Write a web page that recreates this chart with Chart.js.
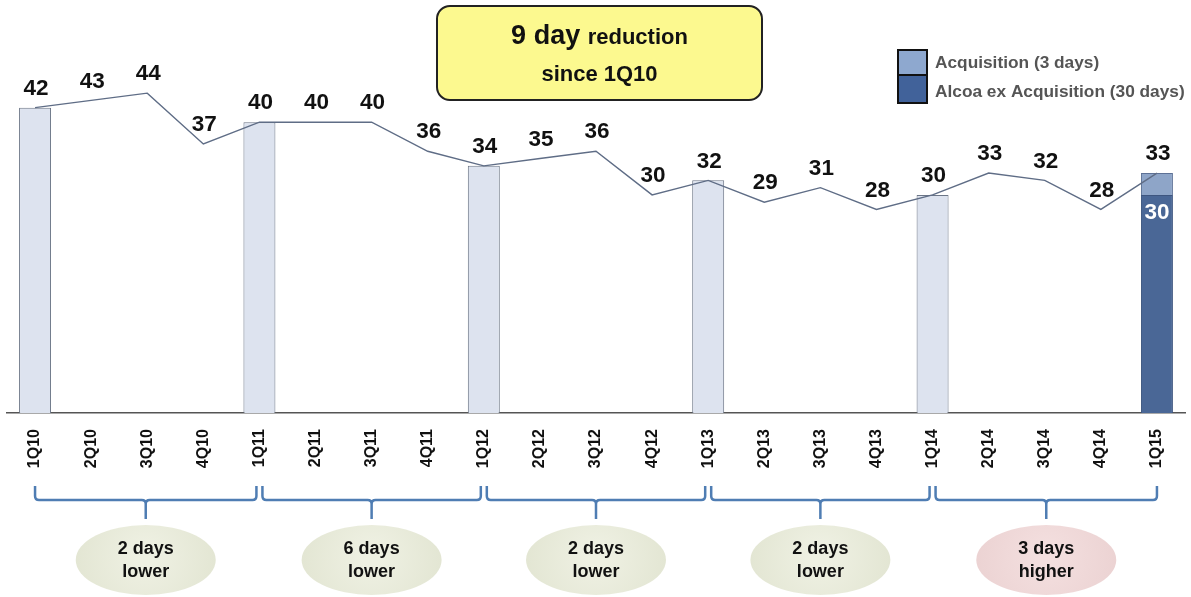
<!DOCTYPE html>
<html>
<head>
<meta charset="utf-8">
<script src="https://cdn.jsdelivr.net/npm/chart.js@4/dist/chart.umd.min.js"></script>
<style>
  html, body { margin: 0; padding: 0; background: #fff; }
  #wrap { width: 1191px; height: 597px; position: relative; }
</style>
</head>
<body>
<div id="wrap"><canvas id="dsoChart"></canvas></div>
<script>
const quarters = ['1Q10','2Q10','3Q10','4Q10','1Q11','2Q11','3Q11','4Q11','1Q12','2Q12','3Q12','4Q12',
                  '1Q13','2Q13','3Q13','4Q13','1Q14','2Q14','3Q14','4Q14','1Q15'];
const dsoDays = [42,43,44,37,40,40,40,36,34,35,36,30,32,29,31,28,30,33,32,28,33];
const yearStartBars = [42,null,null,null,40,null,null,null,34,null,null,null,32,null,null,null,30,null,null,null,null];
const alcoaExAcq = [null,null,null,null,null,null,null,null,null,null,null,null,null,null,null,null,null,null,null,null,30];
const acquisition = [null,null,null,null,null,null,null,null,null,null,null,null,null,null,null,null,null,null,null,null,3];
const legendLabels = ['Acquisition (3 days)', 'Alcoa ex Acquisition (30 days)'];
// year-over-year comparison brackets: [from index, to index, line1, line2, good?]
const yearGroups = [
  [0, 4, '2 days', 'lower', true],
  [4, 8, '6 days', 'lower', true],
  [8, 12, '2 days', 'lower', true],
  [12, 16, '2 days', 'lower', true],
  [16, 20, '3 days', 'higher', false]
];
const headline = ['9 day', 'reduction', 'since 1Q10'];

const FONT = '"Liberation Sans", Arial, sans-serif';

function drawBrace(ctx, x1, x2, yTop, yMid, yTip) {
  const xm = (x1 + x2) / 2;
  ctx.beginPath();
  ctx.moveTo(x1, yTop);
  ctx.lineTo(x1, yMid - 4);
  ctx.quadraticCurveTo(x1, yMid, x1 + 4, yMid);
  ctx.lineTo(xm - 4, yMid);
  ctx.quadraticCurveTo(xm, yMid, xm, yMid + 4);
  ctx.lineTo(xm, yTip);
  ctx.moveTo(xm, yMid + 4);
  ctx.quadraticCurveTo(xm, yMid, xm + 4, yMid);
  ctx.lineTo(x2 - 4, yMid);
  ctx.quadraticCurveTo(x2, yMid, x2, yMid - 4);
  ctx.lineTo(x2, yTop);
  ctx.stroke();
}

const overlayPlugin = {
  id: 'overlay',
  afterDatasetsDraw(chart) {
    const ctx = chart.ctx;
    const lineMeta = chart.getDatasetMeta(0);

    // value labels above the line
    ctx.save();
    ctx.font = 'bold 22.5px ' + FONT;
    ctx.fillStyle = '#111';
    ctx.textAlign = 'center';
    ctx.textBaseline = 'middle';
    lineMeta.data.forEach((pt, i) => {
      ctx.fillText(String(dsoDays[i]), pt.x + 1, pt.y - 19);
    });
    // white label inside dark segment
    const darkMeta = chart.getDatasetMeta(2);
    const last = quarters.length - 1;
    const bar = darkMeta.data[last];
    ctx.fillStyle = '#fff';
    ctx.fillText(String(alcoaExAcq[last]), bar.x, bar.y + 18);
    ctx.restore();
  },
  afterDraw(chart) {
    const ctx = chart.ctx;
    const x = chart.scales.x;
    ctx.save();

    // headline box
    const bx = 437, by = 6, bw = 325, bh = 94;
    ctx.beginPath();
    ctx.roundRect(bx, by, bw, bh, 13);
    ctx.fillStyle = '#fcf98f';
    ctx.fill();
    ctx.lineWidth = 2;
    ctx.strokeStyle = '#222';
    ctx.stroke();
    ctx.fillStyle = '#111';
    ctx.textBaseline = 'alphabetic';
    ctx.font = 'bold 27px ' + FONT;
    const w1 = ctx.measureText(headline[0] + ' ').width;
    ctx.font = 'bold 22px ' + FONT;
    const w2 = ctx.measureText(headline[1]).width;
    let sx = bx + bw / 2 - (w1 + w2) / 2;
    ctx.textAlign = 'left';
    ctx.font = 'bold 27px ' + FONT;
    ctx.fillText(headline[0] + ' ', sx, 44);
    ctx.font = 'bold 22px ' + FONT;
    ctx.fillText(headline[1], sx + w1, 44);
    ctx.textAlign = 'center';
    ctx.fillText(headline[2], bx + bw / 2, 81);

    // legend
    const colors = ['#8ea8cf', '#41629a'];
    ctx.lineWidth = 2;
    ctx.strokeStyle = '#111';
    ctx.fillStyle = colors[0];
    ctx.fillRect(898, 50, 29, 25);
    ctx.strokeRect(898, 50, 29, 25);
    ctx.fillStyle = colors[1];
    ctx.fillRect(898, 75, 29, 28);
    ctx.strokeRect(898, 75, 29, 28);
    ctx.font = 'bold 17.3px ' + FONT;
    ctx.fillStyle = '#555';
    ctx.textAlign = 'left';
    ctx.textBaseline = 'middle';
    ctx.fillText(legendLabels[0], 935, 63);
    ctx.fillText(legendLabels[1], 935, 92);

    // brackets and ellipses
    yearGroups.forEach((g, gi) => {
      let x1 = x.getPixelForValue(g[0]);
      let x2 = x.getPixelForValue(g[1]);
      if (gi > 0) x1 += 3;
      if (gi < yearGroups.length - 1) x2 -= 3;
      ctx.strokeStyle = '#4f7db3';
      ctx.lineWidth = 2.5;
      drawBrace(ctx, x1, x2, 486, 500, 519);
      const cx = (x1 + x2) / 2;
      ctx.beginPath();
      ctx.ellipse(cx, 560, 70, 35, 0, 0, Math.PI * 2);
      const grad = ctx.createRadialGradient(cx, 555, 10, cx, 560, 75);
      if (g[4]) {
        grad.addColorStop(0, '#eef0e2');
        grad.addColorStop(1, '#e2e5d2');
      } else {
        grad.addColorStop(0, '#f3dede');
        grad.addColorStop(1, '#ebd2d2');
      }
      ctx.fillStyle = grad;
      ctx.fill();
      ctx.fillStyle = '#111';
      ctx.font = 'bold 18px ' + FONT;
      ctx.textAlign = 'center';
      ctx.textBaseline = 'middle';
      ctx.fillText(g[2], cx, 549);
      ctx.fillText(g[3], cx, 572);
    });
    ctx.restore();
  }
};

new Chart(document.getElementById('dsoChart'), {
  type: 'bar',
  data: {
    labels: quarters,
    datasets: [
      {
        type: 'line',
        label: 'DSO',
        data: dsoDays,
        borderColor: '#5f6d86',
        borderWidth: 1.4,
        pointRadius: 0,
        tension: 0,
        stack: 'line',
        order: 0
      },
      {
        label: 'Q1 DSO',
        data: yearStartBars,
        backgroundColor: '#dde3ef',
        borderColor: '#6c7687',
        borderWidth: 1,
        stack: 'bars',
        order: 1
      },
      {
        label: legendLabels[1],
        data: alcoaExAcq,
        backgroundColor: '#4a6796',
        borderColor: '#3e5680',
        borderWidth: 1,
        stack: 'bars',
        order: 1
      },
      {
        label: legendLabels[0],
        data: acquisition,
        backgroundColor: '#8ea5c8',
        borderColor: '#5d7196',
        borderWidth: 1,
        stack: 'bars',
        order: 1
      }
    ]
  },
  options: {
    responsive: true,
    maintainAspectRatio: false,
    animation: false,
    layout: { padding: { left: 7, right: 6, top: 49.5, bottom: 114 } },
    datasets: { bar: { categoryPercentage: 1, barPercentage: 0.57 } },
    plugins: {
      legend: { display: false },
      tooltip: { enabled: false }
    },
    scales: {
      x: {
        stacked: true,
        grid: { display: false },
        border: { display: true, color: '#555', width: 1.5 },
        ticks: {
          color: '#111',
          font: { family: FONT, size: 16, weight: 'bold' },
          minRotation: 90,
          maxRotation: 90,
          padding: 8,
          autoSkip: false
        },
        afterFit(scale) { scale.height = 70; }
      },
      y: {
        stacked: true,
        display: false,
        min: 0,
        max: 50
      }
    }
  },
  plugins: [overlayPlugin]
});
</script>
</body>
</html>
